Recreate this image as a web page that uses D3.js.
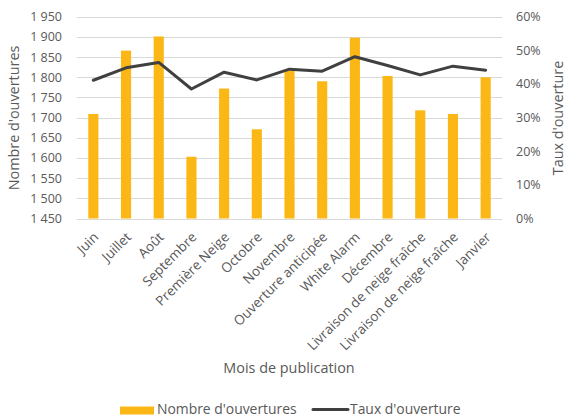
<!DOCTYPE html>
<html>
<head>
<meta charset="utf-8">
<script src="https://cdn.jsdelivr.net/npm/d3@7"></script>
<style>
  html, body { margin: 0; padding: 0; background: #fff; }
  svg { display: block; }
  text { font-family: "Open Sans", sans-serif; fill: #595959; }
</style>
</head>
<body>
<svg id="chart" width="566" height="418"></svg>
<script>
const categories = ["Juin","Juillet","Août","Septembre","Première Neige","Octobre","Novembre","Ouverture anticipée","White Alarm","Décembre","Livraison de neige fraîche","Livraison de neige fraîche","Janvier"];
const opens = [1709, 1866, 1901, 1603, 1772, 1671, 1816, 1790, 1898, 1803, 1718, 1709, 1800];
const rates = [0.411, 0.448, 0.464, 0.385, 0.435, 0.412, 0.444, 0.438, 0.481, 0.455, 0.427, 0.453, 0.441];
const leftTicks = [1450, 1500, 1550, 1600, 1650, 1700, 1750, 1800, 1850, 1900, 1950];
const rightTicks = [0, 0.1, 0.2, 0.3, 0.4, 0.5, 0.6];
const seriesNames = ["Nombre d'ouvertures", "Taux d'ouverture"];
const axisTitles = { left: "Nombre d'ouvertures", right: "Taux d'ouverture", x: "Mois de publication" };

const svg = d3.select("#chart");
const L = 77, R = 502, T = 16.7, B = 218.5;

const x = d3.scaleBand().domain(d3.range(categories.length)).range([L, R]).paddingInner(0.69).paddingOuter(0.345);
const xc = d3.scaleBand().domain(d3.range(categories.length)).range([L, R]);
const yL = d3.scaleLinear().domain([1450, 1950]).range([B, T]);
const yR = d3.scaleLinear().domain([0, 0.6]).range([B, T]);

const fmtL = v => d3.format(",")(v).replace(/,/g, " ");
const fmtR = d3.format(".0%");

// gridlines
svg.append("g").selectAll("line").data(leftTicks).join("line")
  .attr("x1", L).attr("x2", R)
  .attr("y1", d => Math.round(yL(d)) + 0.5).attr("y2", d => Math.round(yL(d)) + 0.5)
  .attr("stroke", "#d9d9d9").attr("stroke-width", 1);

// left axis
const axL = svg.append("g").attr("transform", `translate(${L - 15},0)`)
  .call(d3.axisLeft(yL).tickValues(leftTicks).tickFormat(fmtL).tickSize(0).tickPadding(0));
axL.select(".domain").remove();
axL.selectAll("text").attr("font-size", "12.5px").attr("fill", "#595959").attr("font-family", "Open Sans");

// right axis
const axR = svg.append("g").attr("transform", `translate(${R + 14},0)`)
  .call(d3.axisRight(yR).tickValues(rightTicks).tickFormat(fmtR).tickSize(0).tickPadding(0));
axR.select(".domain").remove();
axR.selectAll("text").attr("font-size", "12.5px").attr("fill", "#595959").attr("font-family", "Open Sans");

// bars
svg.append("g").selectAll("rect").data(opens).join("rect")
  .attr("x", (d, i) => x(i)).attr("width", x.bandwidth())
  .attr("y", d => yL(d)).attr("height", d => yL(1450) - yL(d))
  .attr("fill", "#FBB715");

// line
const line = d3.line().x((d, i) => xc(i) + xc.bandwidth() / 2).y(d => yR(d));
svg.append("path").datum(rates).attr("d", line)
  .attr("fill", "none").attr("stroke", "#404040").attr("stroke-width", 3)
  .attr("stroke-linejoin", "round").attr("stroke-linecap", "round");

// x labels
svg.append("g").selectAll("text").data(categories).join("text")
  .attr("transform", (d, i) => `translate(${xc(i) + xc.bandwidth() / 2 + 6},238) rotate(-45)`)
  .attr("text-anchor", "end").attr("font-size", "13.5px")
  .text(d => d);

// axis titles
svg.append("text").attr("transform", `translate(19,118) rotate(-90)`)
  .attr("text-anchor", "middle").attr("font-size", "14.4px").text(axisTitles.left);
svg.append("text").attr("transform", `translate(562.5,118) rotate(-90)`)
  .attr("text-anchor", "middle").attr("font-size", "14.4px").text(axisTitles.right);
svg.append("text").attr("x", 289).attr("y", 373)
  .attr("text-anchor", "middle").attr("font-size", "14.4px").text(axisTitles.x);

// legend
const lg = svg.append("g");
lg.append("rect").attr("x", 120).attr("y", 406.5).attr("width", 34).attr("height", 8).attr("fill", "#FBB715");
lg.append("text").attr("x", 157).attr("y", 413.5).attr("font-size", "13.9px").text(seriesNames[0]);
lg.append("line").attr("x1", 313).attr("x2", 348).attr("y1", 409.5).attr("y2", 409.5)
  .attr("stroke", "#404040").attr("stroke-width", 3).attr("stroke-linecap", "round");
lg.append("text").attr("x", 350).attr("y", 413.5).attr("font-size", "13.9px").text(seriesNames[1]);
</script>
</body>
</html>
